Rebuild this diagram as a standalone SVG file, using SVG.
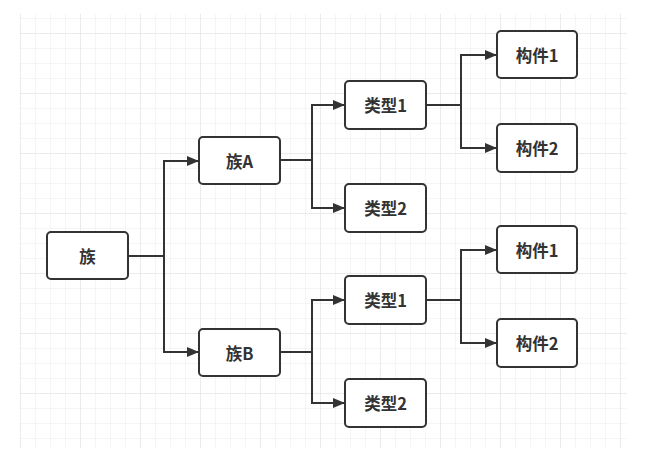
<svg xmlns="http://www.w3.org/2000/svg" width="645" height="457" viewBox="0 0 645 457">
<defs>
<pattern id="minor" x="20" y="18" width="15" height="15" patternUnits="userSpaceOnUse">
<path d="M0 0H15M0 0V15" fill="none" stroke="#ececec" stroke-width="1"/>
</pattern>
<pattern id="major" x="20" y="33" width="60" height="60" patternUnits="userSpaceOnUse">
<path d="M0 0H60M0 0V60" fill="none" stroke="#e2e2e2" stroke-width="1"/>
</pattern>
<marker id="arr" viewBox="0 0 12 10" refX="12" refY="5" markerWidth="12" markerHeight="10" markerUnits="userSpaceOnUse" orient="auto">
<path d="M0 0L12 5L0 10Z" fill="#333"/>
</marker>
</defs>
<style>
.node rect{fill:#fff;stroke:#333;stroke-width:2}
.node text{font-family:"Noto Sans CJK SC","Noto Sans",sans-serif;font-weight:bold;font-size:16.5px;fill:#333;text-anchor:middle;dominant-baseline:central}
.conn path{fill:none;stroke:#333;stroke-width:2}
</style>
<rect x="0" y="0" width="645" height="457" fill="#fff"/>
<rect x="20" y="14" width="607" height="434" fill="url(#minor)"/>
<rect x="20" y="14" width="607" height="434" fill="url(#major)"/>
<g class="conn">
<path d="M128 256H164M164 256V161H199" marker-end="url(#arr)"/>
<path d="M164 256V352H199" marker-end="url(#arr)"/>
<path d="M280 160H312V105H345" marker-end="url(#arr)"/>
<path d="M312 160V208H345" marker-end="url(#arr)"/>
<path d="M426 105H461V55H497" marker-end="url(#arr)"/>
<path d="M461 105V148H497" marker-end="url(#arr)"/>
<path d="M280 352H312V300H345" marker-end="url(#arr)"/>
<path d="M312 352V403H345" marker-end="url(#arr)"/>
<path d="M426 300H461V250H497" marker-end="url(#arr)"/>
<path d="M461 300V343H497" marker-end="url(#arr)"/>
</g>
<g id="n-zu" class="node"><rect x="47" y="232" width="81" height="47" rx="4"/><text x="87.5" y="256">族</text></g>
<g id="n-zuA" class="node"><rect x="199" y="137" width="81" height="47" rx="4"/><text x="239.5" y="161">族A</text></g>
<g id="n-zuB" class="node"><rect x="199" y="329" width="81" height="47" rx="4"/><text x="239.5" y="353">族B</text></g>
<g id="n-A-t1" class="node"><rect x="345" y="81" width="81" height="48" rx="4"/><text x="385.5" y="105">类型1</text></g>
<g id="n-A-t2" class="node"><rect x="345" y="184" width="81" height="48" rx="4"/><text x="385.5" y="208">类型2</text></g>
<g id="n-B-t1" class="node"><rect x="345" y="276" width="81" height="48" rx="4"/><text x="385.5" y="300">类型1</text></g>
<g id="n-B-t2" class="node"><rect x="345" y="379" width="81" height="48" rx="4"/><text x="385.5" y="403">类型2</text></g>
<g id="n-A-c1" class="node"><rect x="497" y="31" width="80" height="47" rx="4"/><text x="537" y="55">构件1</text></g>
<g id="n-A-c2" class="node"><rect x="497" y="124" width="80" height="48" rx="4"/><text x="537" y="148">构件2</text></g>
<g id="n-B-c1" class="node"><rect x="497" y="226" width="80" height="47" rx="4"/><text x="537" y="250">构件1</text></g>
<g id="n-B-c2" class="node"><rect x="497" y="319" width="80" height="48" rx="4"/><text x="537" y="343">构件2</text></g>
</svg>
